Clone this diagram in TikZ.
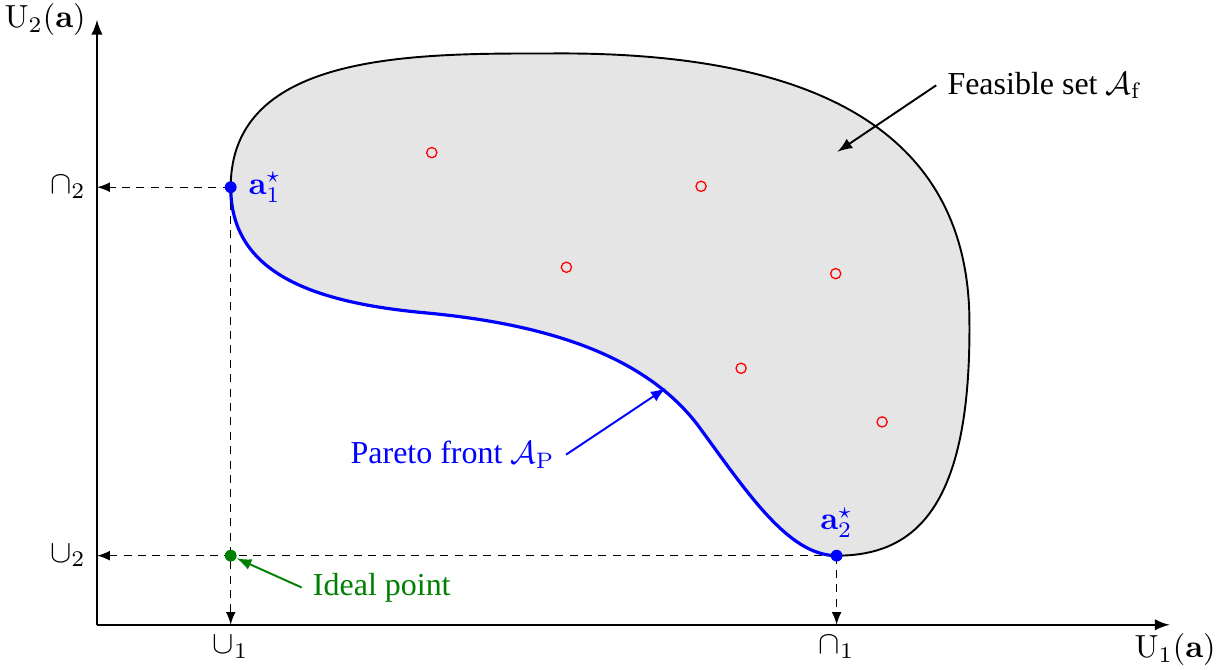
\documentclass[tikz,border=0pt]{standalone}
\usepackage{amsmath, amssymb}
\usepackage[no-math]{fontspec}
\newfontfamily\lblfont{Liberation Serif}
\usetikzlibrary{arrows,positioning}

\begin{document}
\begin{tikzpicture}[proj/.style={-latex,dash pattern=on 2.5pt off 2pt},
	dot/.style={circle,inner sep=0pt,minimum size=3.7pt},
	pointer/.style={-latex,semithick}]
	\useasboundingbox (-1.066,-0.495) rectangle (12.30,6.868);
	% feasible set, black border then pareto front back
	\fill[black!10] (1.47,4.81) to[out=90,in=180] (5.0,6.28)
		.. controls (7.6,6.3) and (9.6,5.6) .. (9.59,3.3)
		.. controls (9.6,1.3) and (9.0,0.76) .. (8.13,0.76)
		.. controls (7.6,0.76) and (7.15,1.45) .. (6.6,2.2)
		.. controls (6.0,2.98) and (4.9,3.31) .. (3.6,3.43)
		.. controls (2.3,3.55) and (1.47,3.9) .. (1.47,4.81);
	\draw[semithick] (1.47,4.81) to[out=90,in=180] (5.0,6.28)
		.. controls (7.6,6.3) and (9.6,5.6) .. (9.59,3.3)
		.. controls (9.6,1.3) and (9.0,0.76) .. (8.13,0.76);
	\draw[blue,line width=1pt] (1.47,4.81) .. controls (1.47,3.9) and (2.3,3.55) .. (3.6,3.43)
		.. controls (4.9,3.31) and (6.0,2.98) .. (6.6,2.2)
		.. controls (7.15,1.45) and (7.6,0.76) .. (8.13,0.76);
	% other points
	\foreach \p in {(3.68,5.19),(6.64,4.82),(5.16,3.93),(8.12,3.86),(7.08,2.82),(8.63,2.23)}
		\draw[red] \p circle (1.6pt);
	% axes
	\coordinate (o) at (0,0);
	\coordinate (xend) at (11.79,0);
	\coordinate (yend) at (0,6.65);
	\draw[semithick,-latex] (o) -- (xend);
	\draw[semithick,-latex] (o) -- (yend);
	\node (xlbl) at (11.85,-0.275) {$\mathrm{U}_1(\mathbf{a})$};
	\node (ylbl) at (-0.57,6.65) {$\mathrm{U}_2(\mathbf{a})$};
	% optima and their projections
	\coordinate (p1) at (1.47,4.81);
	\coordinate (p2) at (8.13,0.76);
	\coordinate (pid) at (1.47,0.76);
	\node[left] (cap2) at (p1 -| o) {$\cap_2$};
	\node[left] (cup2) at (p2 -| o) {$\cup_2$};
	\node[below] (cup1) at (p1 |- o) {$\cup_1$};
	\node[below] (cap1) at (p2 |- o) {$\cap_1$};
	\draw[proj] (p1) -- (cap2.east);
	\draw[proj] (p1) -- (cup1.north);
	\draw[proj] (p2) -- (cup2.east);
	\draw[proj] (p2) -- (cap1.north);
	\node[dot,fill=blue] (a1) at (p1) {};
	\node[dot,fill=blue] (a2) at (p2) {};
	\node[dot,fill=green!50!black] (ideal) at (pid) {};
	\node[right=0pt of a1,blue] (a1lbl) {$\mathbf{a}_1^\star$};
	\node[above=0pt of a2,blue] (a2lbl) {$\mathbf{a}_2^\star$};
	% labels
	\coordinate (fsp) at (8.14,5.20);
	\coordinate (pfp) at (6.25,2.60);
	\node (fs) at (10.42,5.93) {\lblfont Feasible set $\mathcal{A}_\mathrm{f}$};
	\node[blue] (pf) at (3.91,1.87) {\lblfont Pareto front $\mathcal{A}_\mathrm{P}$};
	\node[green!50!black,right] (il) at (2.25,0.41) {\lblfont Ideal point};
	\draw[pointer] (fs.west) -- (fsp);
	\draw[pointer,blue] (pf.east) -- (pfp);
	\draw[pointer,green!50!black] (il.west) -- (ideal);
\end{tikzpicture}
\end{document}
